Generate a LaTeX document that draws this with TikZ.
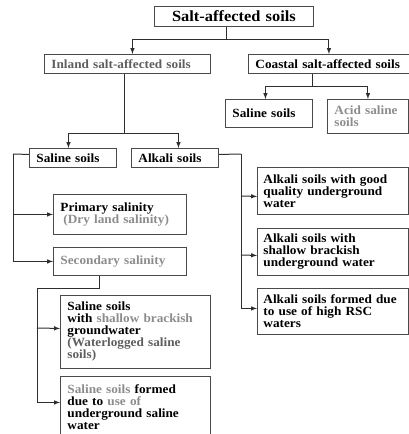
\documentclass[tikz,border=0pt]{standalone}
\usepackage{fontspec}
\setmainfont{Liberation Serif}[FakeStretch=1.06]
\usepackage{tikz}
\usetikzlibrary{arrows,positioning}
\definecolor{boxgray}{HTML}{4A4A4A}
\definecolor{linegray}{HTML}{2E2E2E}
\definecolor{lgray}{HTML}{8C8C8C}
\definecolor{dgray}{HTML}{5E5E5E}
\tikzset{
    soilbox/.style={draw=boxgray, line width=0.9pt, anchor=north west,
        inner xsep=7pt, inner ysep=2pt, align=left,
        font=\fontsize{12.5}{12}\selectfont\bfseries},
    link/.style={draw=linegray, line width=1pt}
}

\begin{document}
\begin{tikzpicture}[x=1pt,y=-1pt]
        \useasboundingbox (0,0) rectangle (409,434);
        \clip (0,0) rectangle (409,434);

        % Top block
        \node[soilbox, align=center, text width=145pt, minimum height=20pt,
        font=\fontsize{15.5}{16}\selectfont\bfseries] (block1) at (154,6) {Salt-affected soils};

        % Inland and coastal
        \node[soilbox, text width=152pt, minimum height=19pt] (block2) at (44,54)
            {\color{dgray}Inland salt-affected soils};
        \node[soilbox, text width=147pt, minimum height=19pt] (block3) at (248,54)
            {\mbox{Coastal salt-affected soils}};

        % Coastal soils
        \node[soilbox, text width=73pt, minimum height=28pt] (block4) at (225,99) {Saline soils};
        \node[soilbox, text width=67pt, minimum height=34pt] (block5) at (327,99)
            {\color{lgray}Acid saline\\soils};

        % Inland soils
        \node[soilbox, text width=73pt, minimum height=19pt] (block6) at (29,148) {Saline soils};
        \node[soilbox, text width=73pt, minimum height=19pt] (block7) at (131,148) {Alkali soils};

        % Salinity
        \node[soilbox, text width=119pt, minimum height=40pt] (block8) at (53,194)
            {Primary salinity\\\hspace{3pt}{\color{lgray}(Dry land salinity)}};
        \node[soilbox, text width=119pt, minimum height=28pt] (block9) at (53,247)
            {\color{lgray}Secondary salinity};
        \node[soilbox, text width=136pt, minimum height=73pt] (block10) at (60,295)
            {Saline soils\\with {\color{lgray}shallow brackish}\\groundwater\\
            {\color{dgray}(Waterlogged saline}\\{\color{dgray}soils)}};
        \node[soilbox, text width=136pt, minimum height=62pt] (block11) at (60,376)
            {{\color{lgray}Saline soils} formed\\due to {\color{lgray}use of}\\underground saline\\water};

        % Alkali soils
        \node[soilbox, inner xsep=6pt, text width=139pt, minimum height=47pt] (block12) at (257,167)
            {Alkali soils with good\\quality underground\\water};
        \node[soilbox, inner xsep=6pt, text width=139pt, minimum height=47pt] (block13) at (257,228)
            {Alkali soils with\\shallow brackish\\underground water};
        \node[soilbox, inner xsep=6pt, text width=139pt, minimum height=46pt] (block14) at (257,288)
            {\mbox{Alkali soils formed due}\\to use of high RSC\\waters};

        % Junctions
        \coordinate (split1) at (226,39);
        \coordinate (split2) at (312,86);
        \coordinate (split3) at (124,133);
        \coordinate (left1) at (13,154);
        \coordinate (right1) at (241,154);
        \coordinate (down1) at (99,288);
        \coordinate (left2) at (37,288);

        % Arrows
        \draw[link] (block1.south -| split1) -- (split1);
        \draw[link,-latex] (split1) -| ([xshift=5pt]block2.north);
        \draw[link,-latex] (split1) -| (block3.north);

        \draw[link] (block3.south -| split2) -- (split2);
        \draw[link,-latex] (split2) -| ([xshift=-3.5pt]block4.north);
        \draw[link,-latex] (split2) -| (block5.north);

        \draw[link] (block2.south -| split3) -- (split3);
        \draw[link,-latex] (split3) -| ([xshift=-4.5pt]block6.north);
        \draw[link,-latex] (split3) -| ([xshift=3.5pt]block7.north);

        \draw[link] ([yshift=3.5pt]block6.west) -- (left1);
        \draw[link,-latex] (left1) |- (block9.west);
        \draw[link,-latex] (left1 |- block8.west) -- (block8.west);

        \draw[link] ([yshift=3.5pt]block7.east) -- (right1);
        \draw[link,-latex] (right1) |- ([yshift=3pt]block14.west);
        \draw[link,-latex] (right1 |- 0,196) -- ([yshift=-5.5pt]block12.west);
        \draw[link,-latex] (right1 |- 0,255) -- ([yshift=-3.5pt]block13.west);

        \draw[link] (block9.south -| down1) -- (down1) -- (left2);
        \draw[link,-latex] (left2) |- ([yshift=5pt]block11.west);
        \draw[link,-latex] (left2 |- 0,328) -- ([yshift=3.5pt]block10.west);
\end{tikzpicture}
\end{document}
